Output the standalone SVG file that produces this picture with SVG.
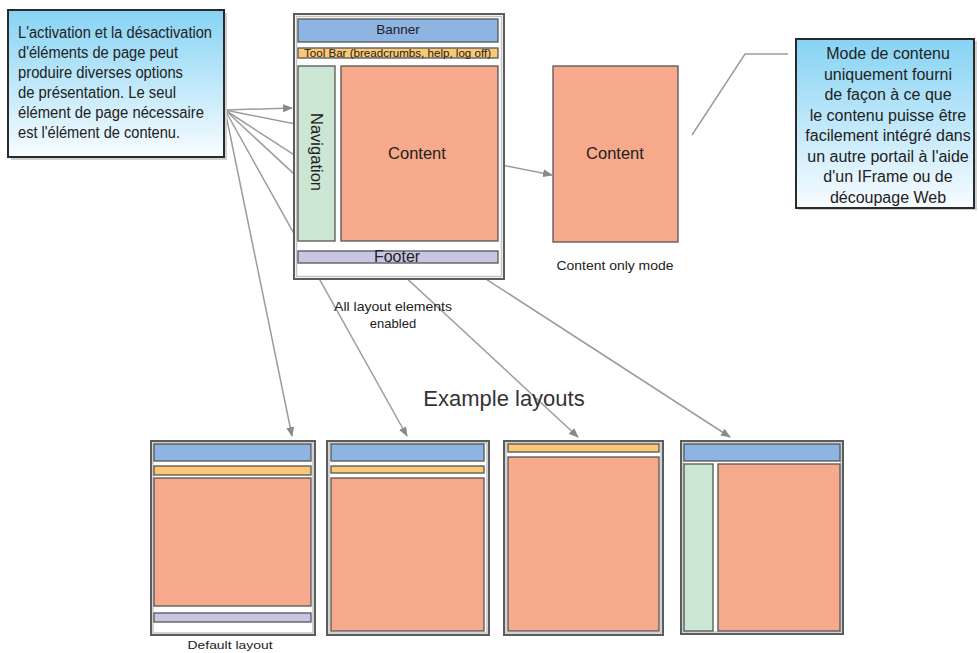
<svg xmlns="http://www.w3.org/2000/svg" width="978" height="653" viewBox="0 0 978 653">
<defs>
<linearGradient id="callGrad" x1="0" y1="0" x2="0" y2="1">
<stop offset="0" stop-color="#86d3f4"/>
<stop offset="1" stop-color="#f8fcff"/>
</linearGradient>
<marker id="arr" markerUnits="userSpaceOnUse" markerWidth="10" markerHeight="8" refX="9" refY="4" orient="auto">
<path d="M0,0 L10,4 L0,8 Z" fill="#8a8a8a"/>
</marker>
<style>
.t{font-family:"Liberation Sans",Arial,sans-serif;fill:#222}
.frame{fill:#fff;stroke:#5c5c5c;stroke-width:2}
.frameIn{fill:none;stroke:#c4c4c4;stroke-width:1.5}
.el{stroke:#555;stroke-width:1.3}
.ban{fill:#8eb4e2}
.tool{fill:#fbc874}
.cont{fill:#f7a98b}
.nav{fill:#cbe7d4}
.foot{fill:#c9c6e4}
.conn{fill:none;stroke:#9c9c9c;stroke-width:1.5}
.call{fill:url(#callGrad);stroke:#2a2a2a;stroke-width:2}
.shadow{fill:#d0d0d0}
</style>
</defs>
<rect width="978" height="653" fill="#fff"/>

<g id="connectors">
<line class="conn" x1="225" y1="110" x2="292" y2="108" marker-end="url(#arr)"/>
<line class="conn" x1="225" y1="110" x2="552" y2="175" marker-end="url(#arr)"/>
<line class="conn" x1="225" y1="110" x2="292" y2="436" marker-end="url(#arr)"/>
<line class="conn" x1="225" y1="110" x2="407" y2="436" marker-end="url(#arr)"/>
<line class="conn" x1="225" y1="110" x2="578" y2="437" marker-end="url(#arr)"/>
<line class="conn" x1="225" y1="110" x2="730" y2="437" marker-end="url(#arr)"/>
<polyline class="conn" points="788,54 745,54 692,135"/>
</g>

<g id="callout-left">
<rect class="shadow" x="11" y="13" width="216" height="147"/>
<rect class="call" x="8" y="10" width="216" height="147"/>
<g class="t" font-size="16">
<text x="18" y="38" textLength="194" lengthAdjust="spacingAndGlyphs">L'activation et la désactivation</text>
<text x="18" y="58" textLength="160" lengthAdjust="spacingAndGlyphs">d'éléments de page peut</text>
<text x="18" y="78" textLength="165" lengthAdjust="spacingAndGlyphs">produire diverses options</text>
<text x="18" y="98" textLength="158" lengthAdjust="spacingAndGlyphs">de présentation. Le seul</text>
<text x="18" y="118" textLength="186" lengthAdjust="spacingAndGlyphs">élément de page nécessaire</text>
<text x="18" y="138" textLength="162" lengthAdjust="spacingAndGlyphs">est l'élément de contenu.</text>
</g>
</g>

<g id="callout-right">
<rect class="shadow" x="798" y="41" width="179" height="169"/>
<rect class="call" x="796" y="39" width="178" height="169"/>
<g class="t" font-size="16" text-anchor="middle">
<text x="888" y="59">Mode de contenu</text>
<text x="888" y="79.5">uniquement fourni</text>
<text x="888" y="100">de façon à ce que</text>
<text x="888" y="120.5">le contenu puisse être</text>
<text x="888" y="141">facilement intégré dans</text>
<text x="888" y="161.5">un autre portail à l'aide</text>
<text x="888" y="182">d'un IFrame ou de</text>
<text x="888" y="202.5">découpage Web</text>
</g>
</g>

<g id="main-layout">
<rect class="frame" x="294" y="14" width="210" height="265"/>
<rect class="frameIn" x="296.5" y="16.5" width="205" height="260"/>
<rect class="el ban" x="298" y="19" width="200" height="23"/>
<text class="t" x="398" y="34" font-size="13.5" text-anchor="middle">Banner</text>
<rect class="el tool" x="298" y="48" width="200" height="10"/>
<text class="t" x="304" y="56.5" font-size="10" textLength="187" lengthAdjust="spacingAndGlyphs">Tool Bar (breadcrumbs, help, log off)</text>
<rect class="el nav" x="298" y="66" width="37" height="175"/>
<text class="t" transform="translate(311,152) rotate(90)" font-size="16.5" text-anchor="middle">Navigation</text>
<rect class="el cont" x="341" y="66" width="157" height="175"/>
<text class="t" x="417" y="159" font-size="16.5" text-anchor="middle">Content</text>
<rect class="el foot" x="298" y="251" width="200" height="12"/>
<text class="t" x="397" y="262" font-size="16" text-anchor="middle">Footer</text>
<text class="t" x="393" y="311" font-size="13" text-anchor="middle" textLength="118" lengthAdjust="spacingAndGlyphs">All layout elements</text>
<text class="t" x="393" y="328" font-size="13" text-anchor="middle">enabled</text>
</g>

<g id="content-only">
<rect class="el cont" x="553" y="66" width="125" height="176"/>
<text class="t" x="615" y="159" font-size="16.5" text-anchor="middle">Content</text>
<text class="t" x="615" y="270" font-size="12.5" text-anchor="middle" textLength="117" lengthAdjust="spacingAndGlyphs">Content only mode</text>
</g>

<g id="title">
<text class="t" x="504" y="406" font-size="22" text-anchor="middle" style="fill:#333">Example layouts</text>
</g>

<g id="layout-default">
<rect class="frame" x="151" y="441" width="164" height="194"/>
<rect class="frameIn" x="153" y="443" width="160" height="190"/>
<rect class="el ban" x="154" y="444" width="157" height="17"/>
<rect class="el tool" x="154" y="466" width="157" height="9"/>
<rect class="el cont" x="154" y="478" width="157" height="128"/>
<rect class="el foot" x="154" y="613" width="157" height="9"/>
<text class="t" x="230" y="649" font-size="11.5" text-anchor="middle" textLength="85" lengthAdjust="spacingAndGlyphs">Default layout</text>
</g>

<g id="layout-2">
<rect class="frame" x="327" y="441" width="162" height="194"/>
<rect class="frameIn" x="329" y="443" width="158" height="190"/>
<rect class="el ban" x="331" y="444" width="153" height="17"/>
<rect class="el tool" x="331" y="466" width="153" height="7"/>
<rect class="el cont" x="331" y="478" width="153" height="153"/>
</g>

<g id="layout-3">
<rect class="frame" x="504" y="441" width="159" height="194"/>
<rect class="frameIn" x="506" y="443" width="155" height="190"/>
<rect class="el tool" x="508" y="444" width="151" height="8"/>
<rect class="el cont" x="508" y="457" width="151" height="174"/>
</g>

<g id="layout-4">
<rect class="frame" x="681" y="441" width="162" height="193"/>
<rect class="frameIn" x="683" y="443" width="158" height="189"/>
<rect class="el ban" x="684" y="444" width="156" height="17"/>
<rect class="el nav" x="684" y="464" width="29" height="167"/>
<rect class="el cont" x="718" y="464" width="122" height="167"/>
</g>
</svg>
